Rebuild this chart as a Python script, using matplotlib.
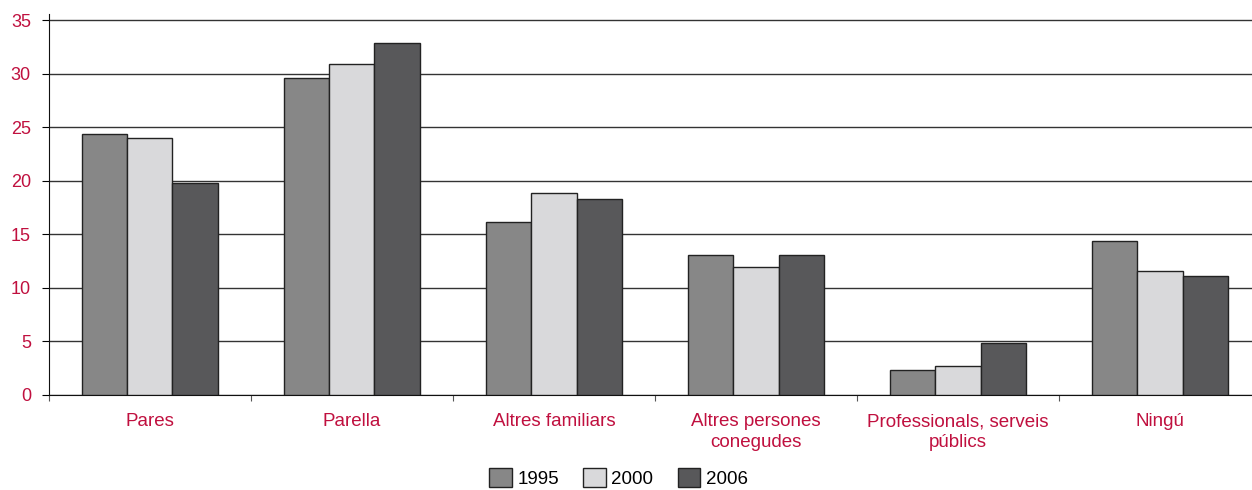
import matplotlib
matplotlib.use("Agg")
import matplotlib.pyplot as plt
import numpy as np

plt.rcParams['font.family'] = ['Liberation Sans', 'DejaVu Sans']

# dades
categories = ['Pares', 'Parella', 'Altres familiars', 'Altres persones\nconegudes',
              'Professionals, serveis\npúblics', 'Ningú']
years = ['1995', '2000', '2006']
v1995 = [24.4, 29.6, 16.2, 13.1, 2.3, 14.4]
v2000 = [24.0, 30.9, 18.9, 12.0, 2.7, 11.6]
v2006 = [19.8, 32.9, 18.3, 13.1, 4.9, 11.1]

colors = ['#878787', '#d9d9db', '#58585a']
red = '#c0103f'

fig = plt.figure(figsize=(12.52, 4.9), dpi=100)
ax = fig.add_axes([0.0391, 0.1939, 0.9681, 0.7775])

x = np.arange(len(categories))
w = 0.223
series = [v1995, v2000, v2006]
for i, vals in enumerate(series):
    ax.bar(x + (i - 1) * w, vals, w, color=colors[i], edgecolor='#222222',
           linewidth=1.0, label=years[i], zorder=3)

ax.set_xlim(-0.5, len(categories) - 0.5)
ax.set_ylim(0, 35.6)
ax.set_yticks(np.arange(0, 36, 5))
ax.yaxis.grid(True, color='#333333', linewidth=1.0, zorder=0)
ax.set_axisbelow(True)

for s in ['top', 'right']:
    ax.spines[s].set_visible(False)
ax.spines['left'].set_color('#111111')
ax.spines['bottom'].set_color('#111111')

# ticks x a les fronteres, etiquetes al centre
ax.set_xticks(np.arange(len(categories) + 1) - 0.5)
ax.set_xticklabels([])
ax.set_xticks(x, minor=True)
ax.set_xticklabels(categories, minor=True, color=red, fontsize=13.5, linespacing=1.3)
ax.tick_params(axis='x', which='minor', length=0, pad=13)
ax.tick_params(axis='x', which='major', length=4, direction='out', color='#555555')
ax.tick_params(axis='y', length=5, direction='out', labelsize=13, labelcolor=red, pad=8)

fig.legend(loc='lower center', bbox_to_anchor=(0.494, -0.022), ncol=3, frameon=False,
           fontsize=13.5, handlelength=1.2, handleheight=1.2, handletextpad=0.3,
           columnspacing=1.3, borderpad=0.2)

fig.savefig('out.png', dpi=100)
